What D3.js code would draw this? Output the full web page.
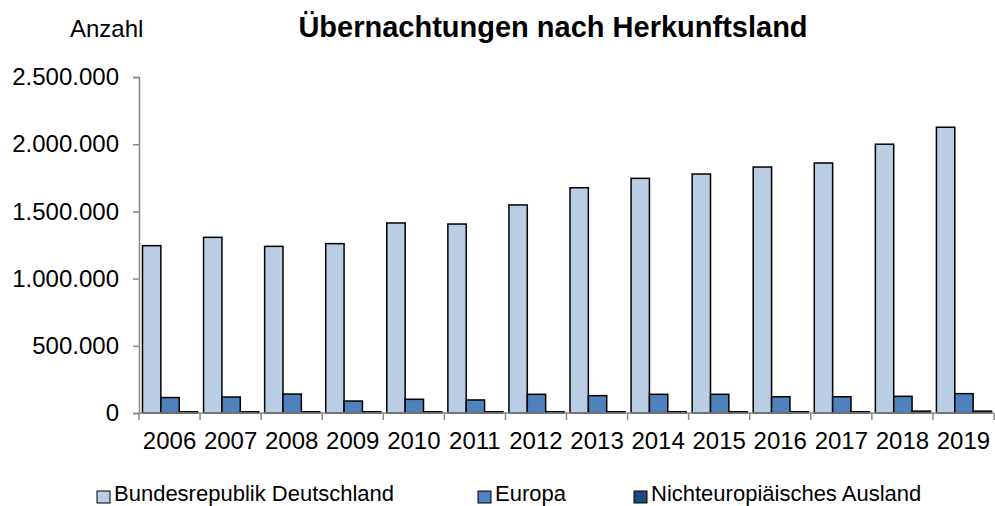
<!DOCTYPE html>
<html>
<head>
<meta charset="utf-8">
<script src="https://cdn.jsdelivr.net/npm/d3@7"></script>
<style>
  body { margin: 0; background: #fff; }
  text { font-family: "Liberation Sans", Arial, sans-serif; fill: #000; }
</style>
</head>
<body>
<div id="chart"></div>
<script>
// Übernachtungen nach Herkunftsland
var years = ['2006','2007','2008','2009','2010','2011','2012','2013','2014','2015','2016','2017','2018','2019'];
var series = ['Bundesrepublik Deutschland','Europa','Nichteuropiäisches Ausland'];
var deutschland = [1245000,1307000,1240000,1260000,1414000,1406000,1548000,1676000,1746000,1778000,1830000,1860000,2000000,2126000];
var europa = [115000,119000,141000,89000,102000,97000,139000,129000,139000,139000,121000,121000,124000,144000];
var ausland = [9000,9000,9000,9000,9000,9000,9000,9000,9000,9000,9000,9000,14000,14000];
var yTicks = [0,500000,1000000,1500000,2000000,2500000];

var width = 995, height = 506;
var margin = {top: 77, right: 1, bottom: 93, left: 139};
var colors = ['#B9CDE5','#4F81BD','#1F497D'];

var de = d3.formatLocale({decimal: ",", thousands: ".", grouping: [3], currency: ["", " €"]});
var fmt = de.format(",d");

var data = years.map(function(y,i){
  return {year: y, values: [deutschland[i], europa[i], ausland[i]]};
});

var svg = d3.select("#chart").append("svg")
  .attr("width", width)
  .attr("height", height);

var x0 = d3.scaleBand()
  .domain(years)
  .range([margin.left, width - margin.right])
  .padding(0);

var x1 = d3.scaleBand()
  .domain(d3.range(series.length))
  .range([3.5, x0.bandwidth() - 2.5])
  .padding(0);

var y = d3.scaleLinear()
  .domain([0, 2500000])
  .range([height - margin.bottom, margin.top]);

// bars
var groups = svg.selectAll(".grp")
  .data(data)
  .enter().append("g")
  .attr("class", "grp")
  .attr("transform", function(d){ return "translate(" + x0(d.year) + ",0)"; });

groups.selectAll("rect")
  .data(function(d){ return d.values; })
  .enter().append("rect")
  .attr("x", function(d,i){ return x1(i); })
  .attr("y", function(d){ return y(d); })
  .attr("width", x1.bandwidth())
  .attr("height", function(d){ return y(0) - y(d); })
  .attr("fill", function(d,i){ return colors[i]; })
  .attr("stroke", "#000")
  .attr("stroke-width", 1.5);

// y axis
var yAxis = svg.append("g")
  .attr("transform", "translate(" + margin.left + ",0)")
  .call(d3.axisLeft(y).tickValues(yTicks).tickFormat(fmt).tickSize(6).tickPadding(14));
yAxis.select(".domain").attr("stroke", "#888").attr("stroke-width", 1.5);
yAxis.selectAll(".tick line").attr("stroke", "#888").attr("stroke-width", 1.5);
yAxis.selectAll(".tick text")
  .style("font-size", "24px")
  .style("font-family", "Liberation Sans, Arial, sans-serif");

// x axis
var xAxis = svg.append("g")
  .attr("transform", "translate(0," + y(0) + ")")
  .call(d3.axisBottom(x0).tickSize(0).tickPadding(19));
xAxis.select(".domain").remove();
xAxis.selectAll(".tick text")
  .style("font-size", "24px")
  .style("font-family", "Liberation Sans, Arial, sans-serif");

svg.append("line")
  .attr("x1", margin.left).attr("x2", width - margin.right)
  .attr("y1", y(0)).attr("y2", y(0))
  .attr("stroke", "#888").attr("stroke-width", 1.5);

var bounds = years.map(function(yy){ return x0(yy); }).concat([x0(years[years.length-1]) + x0.bandwidth()]);
svg.selectAll(".xtick")
  .data(bounds)
  .enter().append("line")
  .attr("x1", function(d){ return d; }).attr("x2", function(d){ return d; })
  .attr("y1", y(0)).attr("y2", y(0) + 7)
  .attr("stroke", "#888").attr("stroke-width", 1.5);

// title
svg.append("text")
  .attr("x", 553).attr("y", 37)
  .attr("text-anchor", "middle")
  .style("font-size", "29px")
  .style("font-weight", "bold")
  .text("Übernachtungen nach Herkunftsland");

svg.append("text")
  .attr("x", 70).attr("y", 37)
  .style("font-size", "24px")
  .text("Anzahl");

// legend
var legendX = [97, 478, 634];
var legend = svg.selectAll(".leg")
  .data(series)
  .enter().append("g")
  .attr("class", "leg")
  .attr("transform", function(d,i){ return "translate(" + legendX[i] + ",491)"; });

legend.append("rect")
  .attr("width", 13).attr("height", 12)
  .attr("fill", function(d,i){ return colors[i]; })
  .attr("stroke", "#000").attr("stroke-width", 1);

legend.append("text")
  .attr("x", 17).attr("y", 10)
  .style("font-size", "22px")
  .text(function(d){ return d; });
</script>
</body>
</html>
